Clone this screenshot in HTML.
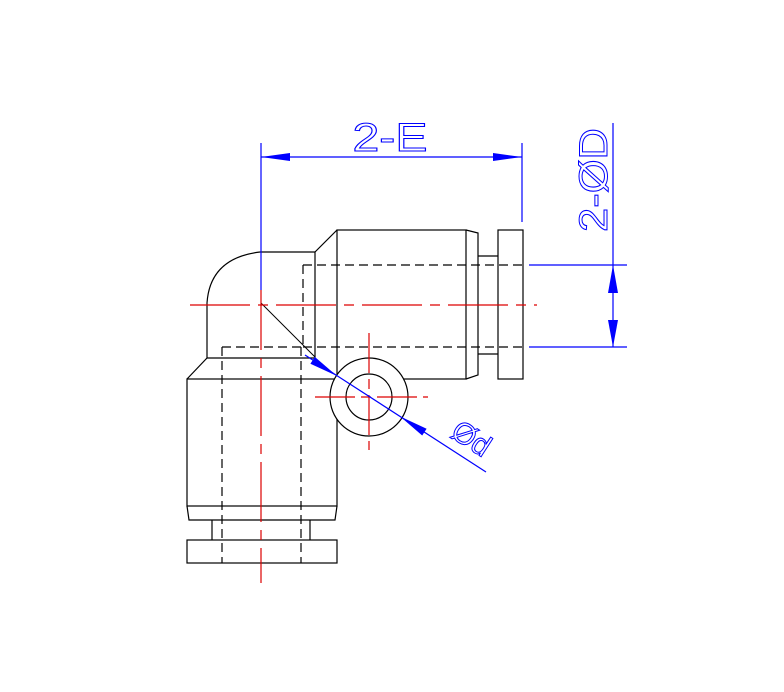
<!DOCTYPE html>
<html><head><meta charset="utf-8"><style>
html,body{margin:0;padding:0;background:#fff;width:784px;height:692px;overflow:hidden}
svg{display:block}
text{font-family:"Liberation Sans",sans-serif;fill:none;stroke:#0000ff;stroke-width:1}
</style></head><body>
<svg width="784" height="692" viewBox="0 0 784 692" xmlns="http://www.w3.org/2000/svg">
<g stroke="#000" stroke-width="1.2" fill="none">
 <path d="M260 252 L315 252 L315 358 L207 358 L207 303 Q210 258 260 252"/>
 <path d="M315 252 L337 230"/>
 <rect x="337" y="230" width="129" height="149"/>
 <path d="M466 230 L478 233 L478 375 L466 379"/>
 <path d="M478 256 L498 256 M478 354 L498 354"/>
 <rect x="498" y="230" width="25" height="149"/>
 <path d="M207 358 L187 379"/>
 <rect x="187" y="379" width="150" height="127"/>
 <path d="M187 506 L189 520 L335 520 L337 506"/>
 <path d="M212 520 L212 540 M310 520 L310 540"/>
 <rect x="187" y="540" width="150" height="23"/>
 <g stroke-dasharray="9,5">
  <path d="M303 265 L527 265 M303 347 L527 347 M303 265 L303 347"/>
  <path d="M222 347 L301 347 M222 347 L222 563 M301 347 L301 563"/>
 </g>
 <path d="M261 303 L315 357" stroke-width="1"/>
 <circle cx="369" cy="397" r="39" fill="#fff"/>
 <circle cx="369" cy="397" r="23"/>
</g>
<g stroke="#dd0000" stroke-width="1.2" fill="none">
 <path d="M190 305 L537 305" stroke-dasharray="60,8,10,8"/>
 <path d="M261 290 L261 583" stroke-dasharray="60,8,10,8"/>
 <path d="M315 397 L428 397" stroke-dasharray="40,6,10,6"/>
 <path d="M369 333 L369 450" stroke-dasharray="40,6,10,6"/>
</g>
<g stroke="#0000ff" stroke-width="1.2" fill="none">
 <path d="M261 143 L261 290 M522 143 L522 222 M261 157 L522 157"/>
 <path d="M529 265 L627 265 M529 347 L627 347 M613 123 L613 347"/>
 <path d="M305 355 L486 472"/>
</g>
<g fill="#0000ff" stroke="none">
 <polygon points="261,157 290,153 290,161"/>
 <polygon points="522,157 493,153 493,161"/>
 <polygon points="613,265 608,293 618,293"/>
 <polygon points="613,347 608,320 618,320"/>
 <polygon points="337,376 310.4,363.7 314.8,356.9"/>
 <polygon points="400,416.4 422.2,435.5 426.6,428.7"/>
</g>
<text x="390" y="151" font-size="40" text-anchor="middle" textLength="75" lengthAdjust="spacingAndGlyphs">2-E</text>
<text transform="translate(607,180) rotate(-90)" font-size="40" text-anchor="middle" textLength="104" lengthAdjust="spacingAndGlyphs">2-ØD</text>
<text transform="translate(466,447) rotate(33)" font-size="30" text-anchor="middle">Ød</text>
</svg>
</body></html>
